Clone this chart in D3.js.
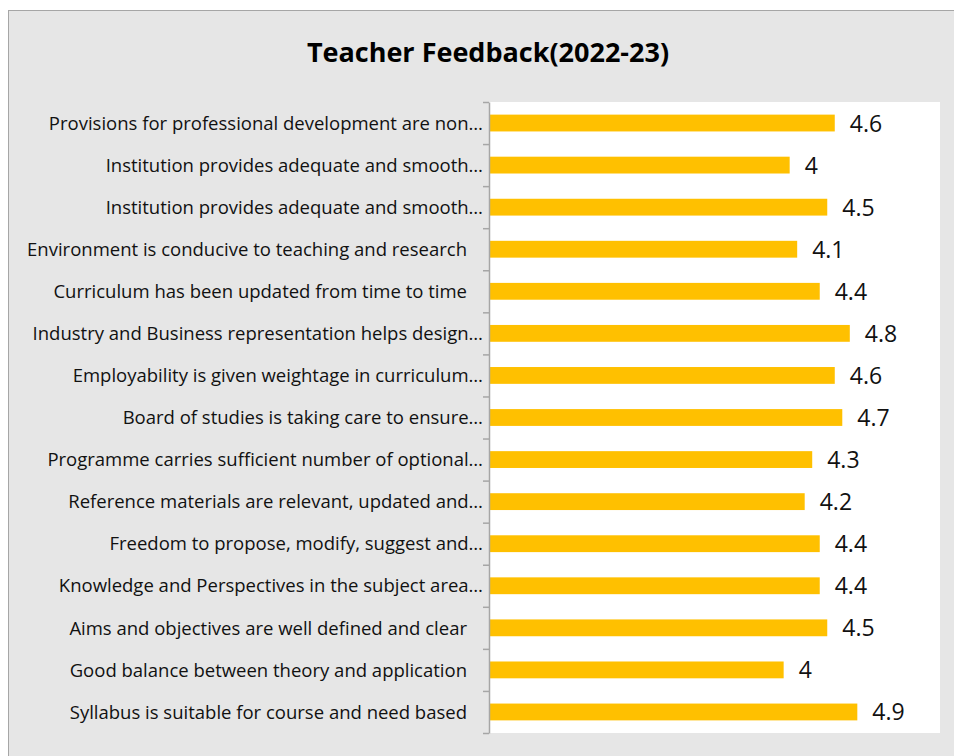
<!DOCTYPE html>
<html>
<head>
<meta charset="utf-8">
<script src="https://cdn.jsdelivr.net/npm/d3@7"></script>
<style>
  html, body { margin: 0; padding: 0; background: #ffffff; }
  svg { display: block; }
  text { font-family: "Open Sans", "Noto Sans", sans-serif; }
</style>
</head>
<body>
<svg id="chart" width="954" height="756"></svg>
<script>
// ---- data ----
const title = "Teacher Feedback(2022-23)";
const categories = [
  "Provisions for professional development are non…",
  "Institution provides adequate and smooth…",
  "Institution provides adequate and smooth…",
  "Environment is conducive to teaching and research ",
  "Curriculum has been updated from time to time ",
  "Industry and Business representation helps design…",
  "Employability is given weightage in curriculum…",
  "Board of studies is taking care to ensure…",
  "Programme carries sufficient number of optional…",
  "Reference materials are relevant, updated and…",
  "Freedom to propose, modify, suggest and…",
  "Knowledge and Perspectives in the subject area…",
  "Aims and objectives are well defined and clear ",
  "Good balance between theory and application ",
  "Syllabus is suitable for course and need based "
];
const values = [4.6, 4.0, 4.5, 4.1, 4.4, 4.8, 4.6, 4.7, 4.3, 4.2, 4.4, 4.4, 4.5, 3.92, 4.9];
const valueLabels = ["4.6", "4", "4.5", "4.1", "4.4", "4.8", "4.6", "4.7", "4.3", "4.2", "4.4", "4.4", "4.5", "4", "4.9"];
const xDomain = [0, 6];

// ---- layout ----
const svg = d3.select("#chart");
const plot = { left: 489, top: 102, right: 940, bottom: 733 };

// chart area background + border
svg.append("rect")
  .attr("x", 8.5).attr("y", 10.5)
  .attr("width", 970).attr("height", 770)
  .attr("fill", "#e6e6e6")
  .attr("stroke", "#a6a6a6").attr("stroke-width", 1);

// plot area
svg.append("rect")
  .attr("x", plot.left).attr("y", plot.top)
  .attr("width", plot.right - plot.left).attr("height", plot.bottom - plot.top)
  .attr("fill", "#ffffff");

// title
svg.append("text")
  .attr("x", 488).attr("y", 62)
  .attr("text-anchor", "middle")
  .attr("font-size", 27).attr("font-weight", "bold")
  .attr("fill", "#000")
  .text(title);

const x = d3.scaleLinear().domain(xDomain).range([plot.left, plot.right]);
const y = d3.scaleBand().domain(d3.range(categories.length))
  .range([plot.top, plot.bottom]).paddingInner(0.6).paddingOuter(0.3);
const yIdx = d3.scaleLinear().domain([0, categories.length]).range([plot.top, plot.bottom]);

// bars
svg.append("g").selectAll("rect")
  .data(values)
  .join("rect")
  .attr("x", x(0))
  .attr("y", (d, i) => y(i))
  .attr("width", d => x(d) - x(0))
  .attr("height", y.bandwidth())
  .attr("fill", "#ffc000");

// value labels
svg.append("g").selectAll("text")
  .data(values)
  .join("text")
  .attr("x", d => x(d) + 15)
  .attr("y", (d, i) => y(i) + y.bandwidth() / 2)
  .attr("dy", "0.37em")
  .attr("font-size", 23)
  .attr("fill", "#111")
  .text((d, i) => valueLabels[i]);

// category axis: labels
const labelAxis = d3.axisLeft(y)
  .tickSize(0).tickPadding(6)
  .tickFormat(i => categories[i]);
const gl = svg.append("g").attr("transform", `translate(${plot.left},0)`).call(labelAxis);
gl.select(".domain").remove();
gl.selectAll("text")
  .attr("font-size", 18.5)
  .attr("fill", "#111")
  .attr("dy", "0.36em")
  .attr("dx", i => categories[i].endsWith(" ") ? -16 : 0)
  .attr("font-family", "'Open Sans', 'Noto Sans', sans-serif");

// category axis: line + ticks at band boundaries
const tickAxis = d3.axisLeft(yIdx)
  .tickValues(d3.range(categories.length + 1))
  .tickSize(6).tickSizeOuter(0)
  .tickFormat("");
const gt = svg.append("g").attr("transform", `translate(${plot.left},0)`).call(tickAxis);
gt.select(".domain").attr("stroke", "#a6a6a6").attr("stroke-width", 1.5);
gt.selectAll(".tick line").attr("stroke", "#a6a6a6").attr("stroke-width", 1.5);
</script>
</body>
</html>
